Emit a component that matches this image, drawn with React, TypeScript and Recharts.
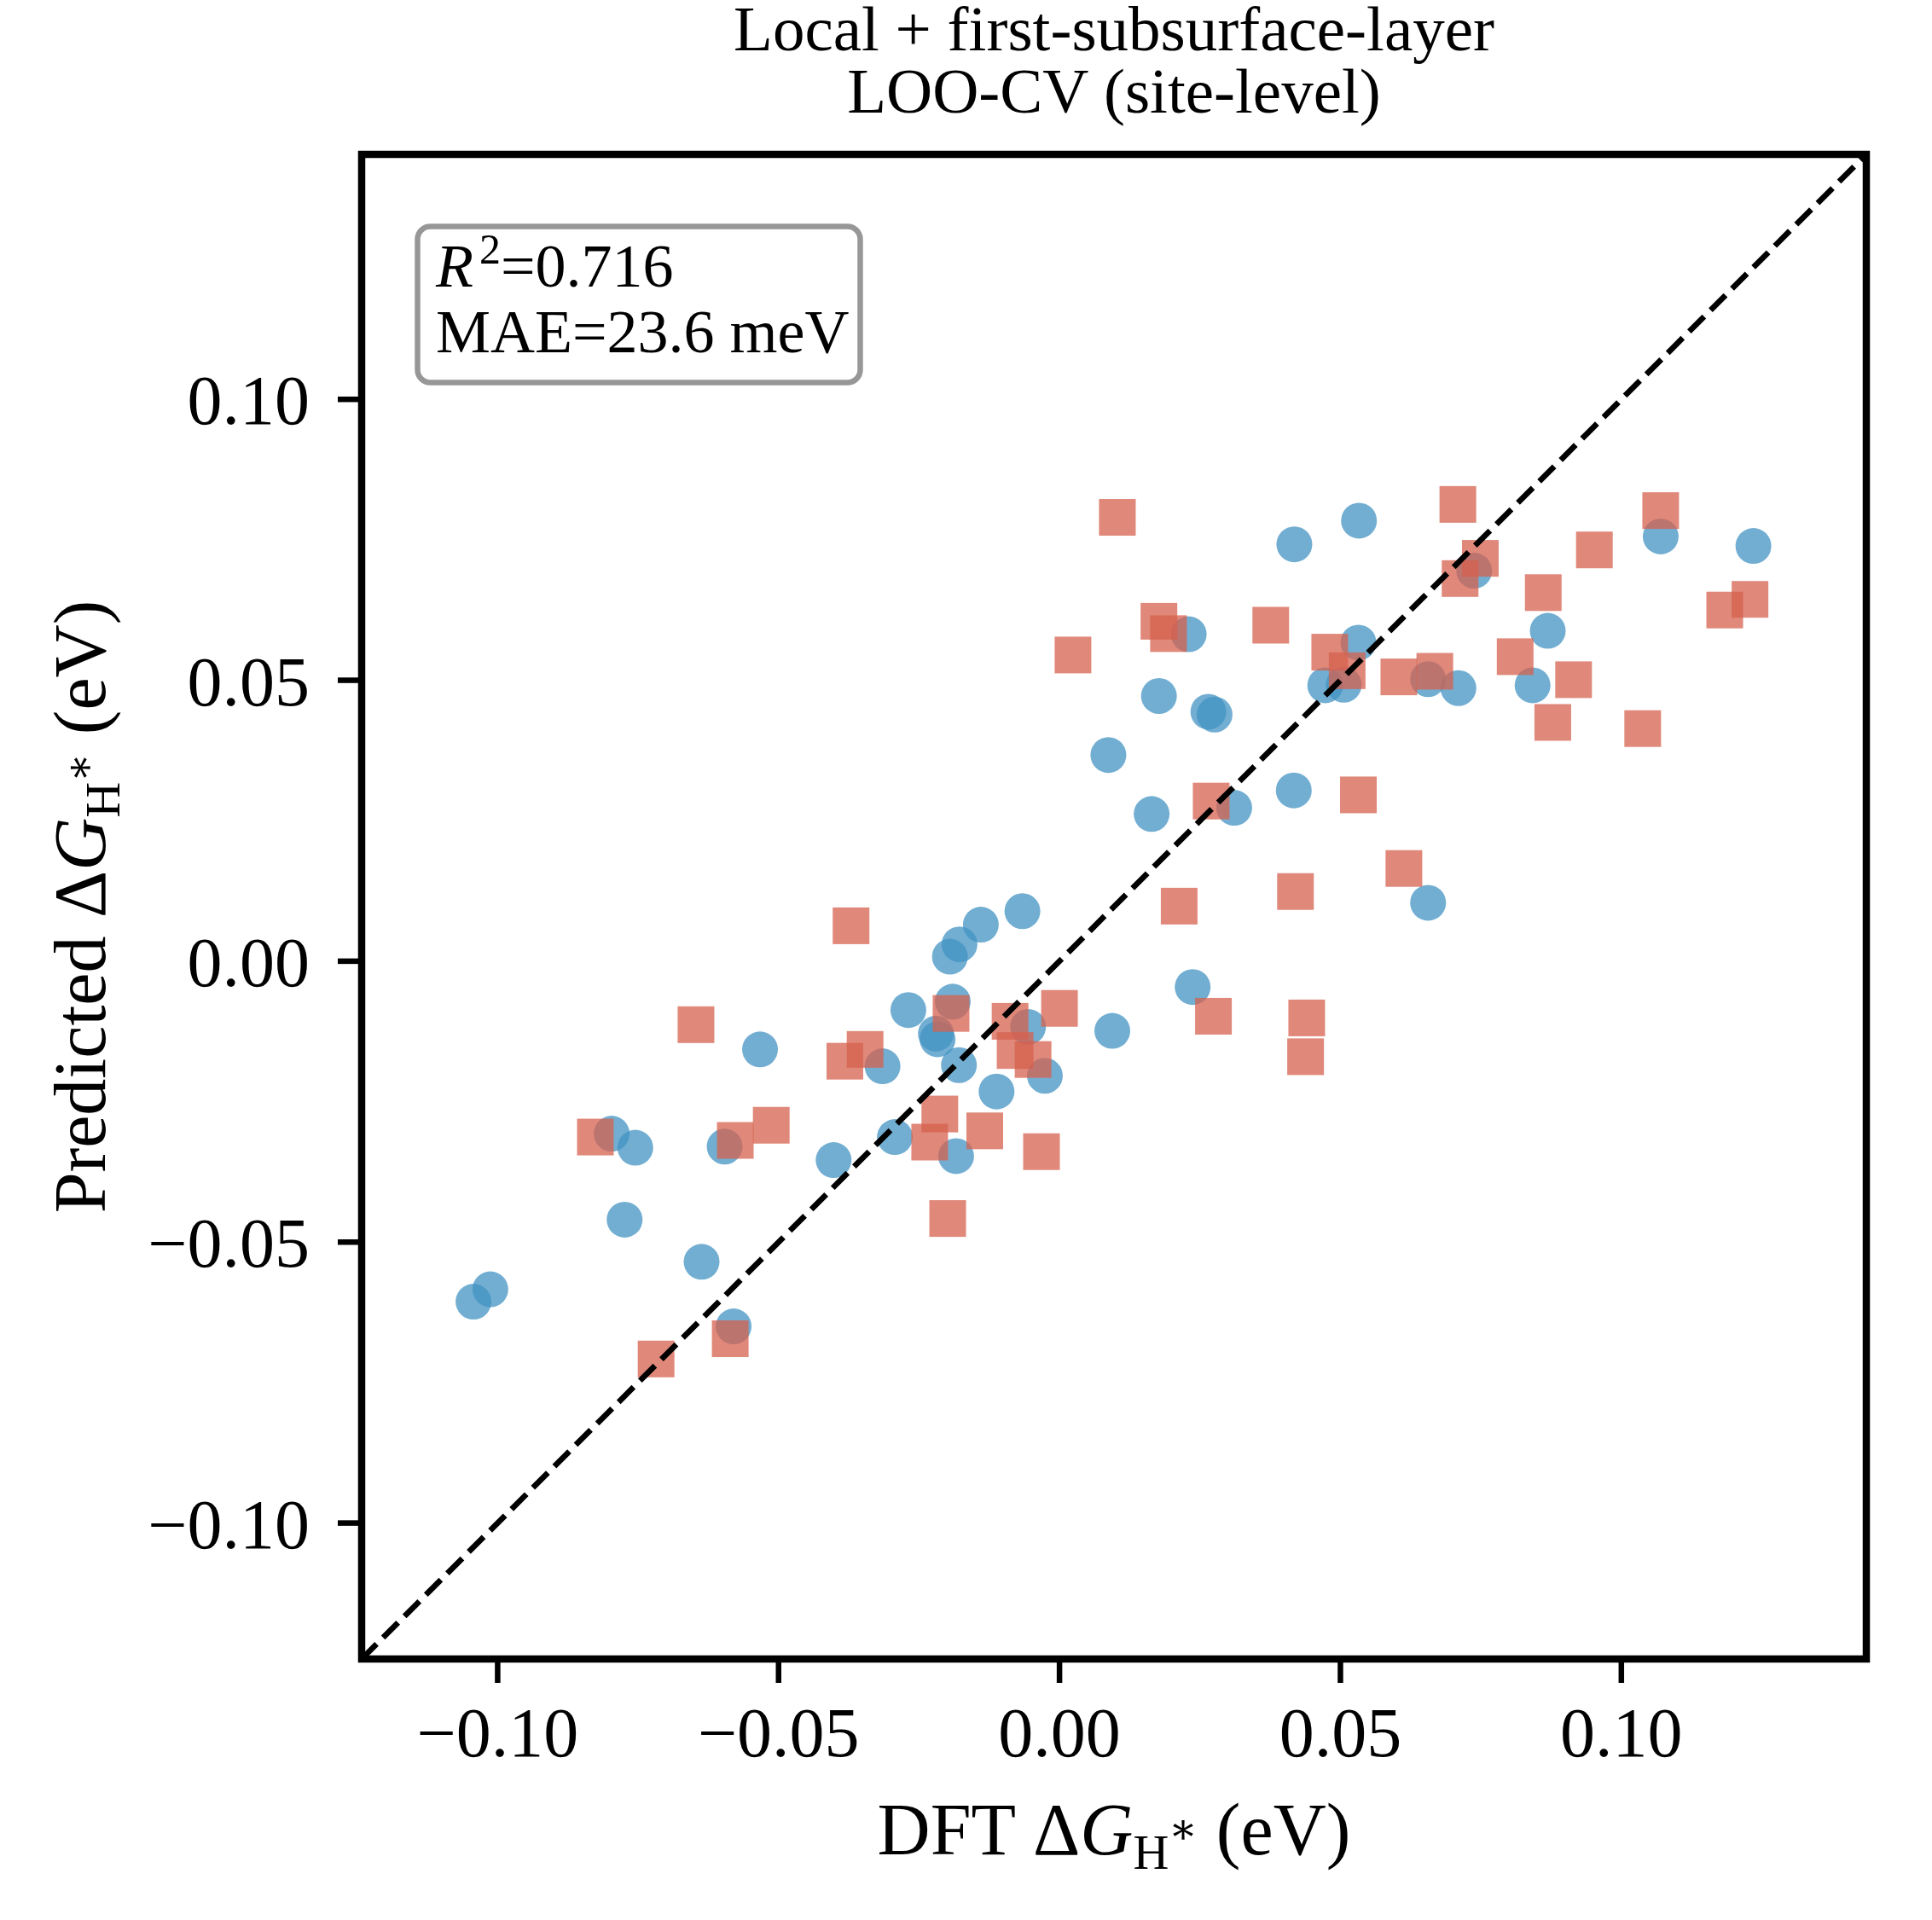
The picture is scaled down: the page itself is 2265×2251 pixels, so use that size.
import React from 'react';
import { ScatterChart, Scatter, XAxis, YAxis, ReferenceLine, ReferenceArea } from 'recharts';

// ---------- data ----------
const dftBlue = [0.0418, 0.0230, 0.0532, 0.0473, 0.0506, 0.0177, 0.0265, 0.0276, 0.0087, 0.0417, 0.0533, 0.0738, 0.1070, 0.1235, 0.0869, 0.0842, 0.0656, 0.0710, 0.0656, 0.0164, 0.0311, -0.0066, -0.0140, -0.0178, -0.0195, 0.0237, 0.0094, -0.0269, -0.0190, -0.0220, -0.0217, -0.0056, -0.0026, -0.0315, -0.0179, -0.0112, -0.0293, -0.0184, -0.0797, -0.0755, -0.0596, -0.0402, -0.0774, -0.0637, -0.1013, -0.1043, -0.0580, -0.0533];
const predBlue = [0.0742, 0.0582, 0.0567, 0.0491, 0.0492, 0.0472, 0.0444, 0.0439, 0.0367, 0.0304, 0.0784, 0.0695, 0.0756, 0.0739, 0.0588, 0.0491, 0.0502, 0.0486, 0.0104, 0.0262, 0.0273, 0.0089, 0.0065, 0.0030, 0.0008, -0.0046, -0.0124, -0.0087, -0.0072, -0.0129, -0.0139, -0.0117, -0.0204, -0.0187, -0.0185, -0.0232, -0.0313, -0.0347, -0.0307, -0.0332, -0.0330, -0.0354, -0.0460, -0.0535, -0.0584, -0.0606, -0.0650, -0.0157];

const dftRed = [0.0103, 0.0177, 0.0194, 0.0376, 0.0481, 0.0512, 0.0709, 0.0749, 0.0713, 0.0952, 0.1070, 0.0861, 0.1184, 0.1229, 0.0811, 0.0915, 0.0604, 0.0668, 0.0878, 0.1038, 0.0532, 0.0613, 0.0270, 0.0213, 0.0420, 0.0274, 0.0440, 0.0438, -0.0193, -0.0088, 0.0000, -0.0079, -0.0047, -0.0213, -0.0231, -0.0133, -0.0032, -0.0199, -0.0826, -0.0577, -0.0513, -0.0718, -0.0586, -0.0371, -0.0647, -0.0382, -0.0346, 0.0024];
const predRed = [0.0790, 0.0605, 0.0583, 0.0598, 0.0550, 0.0517, 0.0813, 0.0717, 0.0681, 0.0732, 0.0802, 0.0656, 0.0625, 0.0644, 0.0542, 0.0501, 0.0506, 0.0516, 0.0425, 0.0414, 0.0296, 0.0165, 0.0285, 0.0098, 0.0124, -0.0098, -0.0101, -0.0170, -0.0093, -0.0107, -0.0084, -0.0159, -0.0175, -0.0272, -0.0322, -0.0302, -0.0339, -0.0458, -0.0313, -0.0319, -0.0292, -0.0708, -0.0672, 0.0063, -0.0113, -0.0178, -0.0157, 0.0545];

const axisTicks = [-0.10, -0.05, 0.0, 0.05, 0.10];
const axisDomain: [number, number] = [-0.1242, 0.1436];
const titleLines = ['Local + first-subsurface-layer', 'LOO-CV (site-level)'];
const statR2 = '0.716';
const statMAE = '23.6';

// ---------- layout / style ----------
const W = 2265;
const H = 2251;
const FONT = '"Liberation Serif", "Times New Roman", Times, serif';
const BLUE = '#4393c3';
const RED = '#d6604d';
const MARKER_ALPHA = 0.75;
const TICK_FS = 82;
const LABEL_FS = 86;

const blueData = dftBlue.map((x, i) => ({ x, y: predBlue[i] }));
const redData = dftRed.map((x, i) => ({ x, y: predRed[i] }));

const fmt = (v: number) => (v < 0 ? '\u2212' + Math.abs(v).toFixed(2) : v.toFixed(2));

const CircleShape = (props: any) => {
  const { cx, cy } = props;
  if (cx == null || cy == null) return null;
  return <circle cx={cx} cy={cy} r={21} fill={BLUE} fillOpacity={MARKER_ALPHA} stroke="none" />;
};

const SquareShape = (props: any) => {
  const { cx, cy } = props;
  if (cx == null || cy == null) return null;
  const s = 43;
  return <rect x={cx - s / 2} y={cy - s / 2} width={s} height={s} fill={RED} fillOpacity={MARKER_ALPHA} stroke="none" />;
};

const AxisQuantity = () => (
  <>
    {'\u0394'}
    <tspan fontStyle="italic">G</tspan>
    <tspan fontSize={58} dy={17}>H</tspan>
    <tspan fontSize={50} dy={-30} fontFamily={'"DejaVu Serif", ' + FONT}>{'\u2217'}</tspan>
    <tspan fontSize={LABEL_FS} dy={13}>{'\u00a0(eV)'}</tspan>
  </>
);

export default function App() {
  return (
    <div style={{ position: 'absolute', left: 0, top: 0, width: W, height: H, background: '#fff', fontFamily: FONT }}>
      <ScatterChart width={W} height={H} margin={{ top: 181, right: 77, bottom: 106, left: 124 }}>
        <XAxis
          type="number"
          dataKey="x"
          domain={axisDomain}
          ticks={axisTicks}
          allowDataOverflow
          interval={0}
          height={200}
          axisLine={false}
          tickSize={28}
          tickMargin={28}
          tickLine={{ stroke: '#000', strokeWidth: 6.5 }}
          tick={{ fill: '#000', fontSize: TICK_FS, fontFamily: FONT }}
          tickFormatter={fmt}
        />
        <YAxis
          type="number"
          dataKey="y"
          domain={axisDomain}
          ticks={axisTicks}
          allowDataOverflow
          interval={0}
          width={300}
          axisLine={false}
          tickSize={28}
          tickMargin={33}
          tickLine={{ stroke: '#000', strokeWidth: 6.5 }}
          tick={{ fill: '#000', fontSize: TICK_FS, fontFamily: FONT }}
          tickFormatter={fmt}
        />
        <ReferenceArea
          x1={axisDomain[0]}
          x2={axisDomain[1]}
          y1={axisDomain[0]}
          y2={axisDomain[1]}
          fill="none"
          fillOpacity={0}
          stroke="#000"
          strokeWidth={8.5}
          ifOverflow="visible"
        />
        <Scatter data={blueData} shape={CircleShape} isAnimationActive={false} />
        <Scatter data={redData} shape={SquareShape} isAnimationActive={false} />
        <ReferenceLine
          segment={[
            { x: axisDomain[0], y: axisDomain[0] },
            { x: axisDomain[1], y: axisDomain[1] },
          ]}
          stroke="#000"
          strokeWidth={6.7}
          strokeDasharray="24.8 10.7"
          ifOverflow="visible"
          zIndex={1000}
        />
      </ScatterChart>

      <svg
        width={W}
        height={H}
        style={{ position: 'absolute', left: 0, top: 0, pointerEvents: 'none' }}
        fontFamily={FONT}
      >
        {/* title (two lines in one text element) */}
        <text x={1306} y={59} textAnchor="middle" fontSize={75} fill="#000">
          <tspan x={1306} y={59}>{titleLines[0]}</tspan>
          <tspan x={1306} y={132}>{titleLines[1]}</tspan>
        </text>

        {/* stats box */}
        <rect x={489.5} y={265.5} width={519} height={183} rx={15} ry={15} fill="#fff" stroke="#979797" strokeWidth={6.5} />
        <text x={511} y={336} fontSize={72} fill="#000">
          <tspan fontStyle="italic">R</tspan>
          <tspan fontSize={50} dy={-27} dx={7}>2</tspan>
          <tspan fontSize={72} dy={27}>{'=' + statR2}</tspan>
        </text>
        <text x={511} y={413} fontSize={72} fill="#000">{'MAE=' + statMAE + ' meV'}</text>

        {/* x-axis label */}
        <text x={1306} y={2174} textAnchor="middle" fontSize={LABEL_FS} fill="#000">
          {'DFT '}
          <AxisQuantity />
        </text>

        {/* y-axis label */}
        <text x={123} y={1063} textAnchor="middle" fontSize={LABEL_FS} fill="#000" transform="rotate(-90 123 1063)">
          {'Predicted '}
          <AxisQuantity />
        </text>
      </svg>
    </div>
  );
}
